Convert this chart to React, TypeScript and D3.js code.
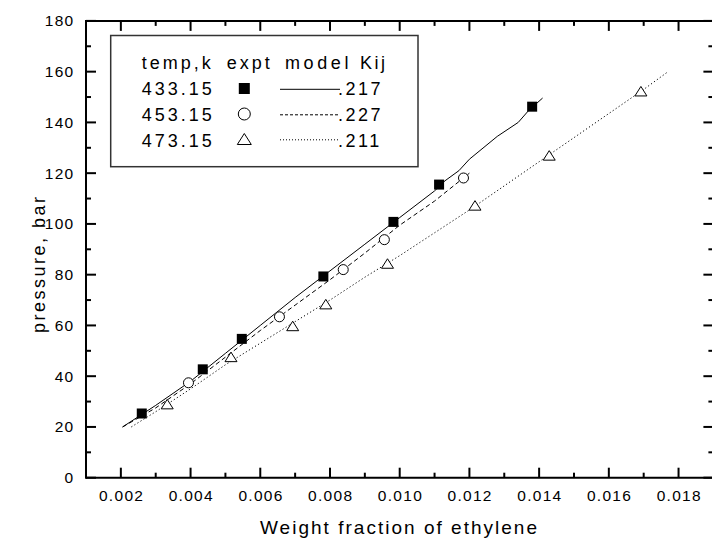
import React from "react";
import * as d3 from "d3";

// ---- data ----
const expt433X = [0.0026, 0.00435, 0.00547, 0.00781, 0.00982, 0.01113, 0.0138];
const expt433Y = [25.3, 42.7, 54.7, 79.3, 100.8, 115.5, 146.2];
const expt453X = [0.00394, 0.00655, 0.00838, 0.00956, 0.01183];
const expt453Y = [37.4, 63.4, 82.0, 93.8, 118.1];
const expt473X = [0.00333, 0.00516, 0.00693, 0.00788, 0.00965, 0.01216, 0.01429, 0.01692];
const expt473Y = [29, 47.6, 59.8, 68.4, 84.4, 107.3, 127, 152.3];

const model433X = [0.00205, 0.003, 0.004, 0.005, 0.006, 0.007, 0.008, 0.009, 0.01, 0.011, 0.0113, 0.0117, 0.012, 0.0128, 0.0134, 0.0137, 0.0141];
const model433Y = [20, 28.5, 38, 49, 60, 71, 81.5, 92, 102.5, 113, 117, 121, 125.5, 134.5, 140, 144.7, 149.6];
const model453X = [0.00205, 0.003, 0.004, 0.005, 0.006, 0.007, 0.008, 0.009, 0.01, 0.011, 0.012];
const model453Y = [20, 27.5, 37, 47.5, 58, 68, 78, 88.5, 99.5, 109, 120];
const model473X = [0.0023, 0.003, 0.004, 0.005, 0.006, 0.007, 0.008, 0.009, 0.01, 0.011, 0.012, 0.013, 0.014, 0.015, 0.016, 0.017, 0.0177];
const model473Y = [20, 26, 35, 44.5, 53, 61.5, 70, 79, 87.5, 96.5, 105.5, 115, 124.5, 134, 143.5, 153, 160];

const xTicks = [0.002, 0.004, 0.006, 0.008, 0.01, 0.012, 0.014, 0.016, 0.018];
const xMinor = [0.001, 0.003, 0.005, 0.007, 0.009, 0.011, 0.013, 0.015, 0.017, 0.019];
const yTicks = [0, 20, 40, 60, 80, 100, 120, 140, 160, 180];
const yMinor = [10, 30, 50, 70, 90, 110, 130, 150, 170];

const legendTemps = ["433.15", "453.15", "473.15"];
const legendKij = [".217", ".227", ".211"];

const FONT = "'Liberation Sans', Arial, Helvetica, sans-serif";

export default function App() {
  const x = d3.scaleLinear().domain([0.001, 0.019]).range([86, 713.4]);
  const y = d3.scaleLinear().domain([0, 180]).range([477.7, 20.9]);

  const line = d3
    .line<[number, number]>()
    .x((d) => x(d[0]))
    .y((d) => y(d[1]));
  const zip = (a: number[], b: number[]) => a.map((v, i) => [v, b[i]] as [number, number]);

  const dashes = ["", "4.5,3", "1.2,2.4"];
  const models = [zip(model433X, model433Y), zip(model453X, model453Y), zip(model473X, model473Y)];

  const x0 = x.range()[0];
  const x1 = x.range()[1];
  const yb = y.range()[0];
  const yt = y.range()[1];

  const square = (cx: number, cy: number, s: number, key: string) => (
    <rect key={key} x={cx - s / 2} y={cy - s / 2} width={s} height={s} fill="#000" />
  );
  const circle = (cx: number, cy: number, r: number, key: string) => (
    <circle key={key} cx={cx} cy={cy} r={r} fill="#fff" stroke="#000" strokeWidth={1} />
  );
  const tri = (cx: number, cy: number, w: number, h: number, key: string) => (
    <path
      key={key}
      d={`M${cx - w / 2},${cy + h / 2}L${cx + w / 2},${cy + h / 2}L${cx},${cy - h / 2}Z`}
      fill="#fff"
      stroke="#000"
      strokeWidth={1}
    />
  );

  const legRows = [94.5, 121, 146.5];
  const legMarkY = [88.5, 114, 139];

  return (
    <svg
      width={712}
      height={539}
      style={{ position: "absolute", left: 0, top: 0, background: "#fff" }}
      fontFamily={FONT}
    >
      <rect x={0} y={0} width={712} height={539} fill="#fff" />

      {/* model lines */}
      {models.map((m, i) => (
        <path
          key={"m" + i}
          d={line(m) || ""}
          fill="none"
          stroke="#000"
          strokeWidth={1}
          strokeDasharray={dashes[i] || undefined}
        />
      ))}

      {/* markers */}
      {zip(expt433X, expt433Y).map((d, i) => square(x(d[0]), y(d[1]), 10, "s" + i))}
      {zip(expt453X, expt453Y).map((d, i) => circle(x(d[0]), y(d[1]), 5, "c" + i))}
      {zip(expt473X, expt473Y).map((d, i) => tri(x(d[0]), y(d[1]), 12, 9.5, "t" + i))}

      {/* frame */}
      <line x1={x0} x2={x1} y1={yb} y2={yb} stroke="#000" strokeWidth={2} />
      <line x1={x0} x2={x1} y1={yt} y2={yt} stroke="#000" strokeWidth={2} />
      <line x1={x0} x2={x0} y1={yt - 1} y2={yb + 1} stroke="#000" strokeWidth={2} />
      <line x1={x1} x2={x1} y1={yt - 1} y2={yb + 1} stroke="#000" strokeWidth={2} />

      {/* x ticks */}
      {xTicks.map((t) => (
        <g key={"xt" + t}>
          <line x1={x(t)} x2={x(t)} y1={yb} y2={yb - 10} stroke="#000" strokeWidth={2} />
          <line x1={x(t)} x2={x(t)} y1={yt} y2={yt + 10} stroke="#000" strokeWidth={2} />
          <text
            x={x(t) + 0.75}
            y={500.5}
            textAnchor="middle"
            fontSize={15.5}
            letterSpacing={1.3}
            fill="#000"
          >
            {t.toFixed(3)}
          </text>
        </g>
      ))}
      {xMinor.map((t) => (
        <g key={"xm" + t}>
          <line x1={x(t)} x2={x(t)} y1={yb} y2={yb - 5} stroke="#000" strokeWidth={2} />
          <line x1={x(t)} x2={x(t)} y1={yt} y2={yt + 5} stroke="#000" strokeWidth={2} />
        </g>
      ))}

      {/* y ticks */}
      {yTicks.map((t) => (
        <g key={"yt" + t}>
          <line x1={x0} x2={x0 + 10} y1={y(t)} y2={y(t)} stroke="#000" strokeWidth={2} />
          <line x1={x1} x2={x1 - 10} y1={y(t)} y2={y(t)} stroke="#000" strokeWidth={2} />
          <text
            x={74.5}
            y={y(t) + 5.5}
            textAnchor="end"
            fontSize={15.5}
            letterSpacing={1.3}
            fill="#000"
          >
            {t}
          </text>
        </g>
      ))}
      {yMinor.map((t) => (
        <g key={"ym" + t}>
          <line x1={x0} x2={x0 + 5} y1={y(t)} y2={y(t)} stroke="#000" strokeWidth={2} />
          <line x1={x1} x2={x1 - 5} y1={y(t)} y2={y(t)} stroke="#000" strokeWidth={2} />
        </g>
      ))}

      {/* axis titles */}
      <text
        x={260}
        y={534}
        fontSize={19}
        textLength={277}
        lengthAdjust="spacing"
        fill="#000"
      >
        Weight fraction of ethylene
      </text>
      <text
        transform="translate(45,333) rotate(-90)"
        x={0}
        y={0}
        fontSize={18}
        textLength={136}
        lengthAdjust="spacing"
        fill="#000"
      >
        pressure, bar
      </text>

      {/* legend */}
      <rect x={110.7} y={35.5} width={307.3} height={131.2} fill="#fff" stroke="#333" strokeWidth={1.5} />
      <g fontSize={18} letterSpacing={3} fill="#000">
        <text x={141.7} y={69}>temp,k</text>
        <text x={226.7} y={69}>expt</text>
        <text x={285} y={69} letterSpacing={3.6}>model</text>
        <text x={360} y={69} letterSpacing={2.5}>Kij</text>
        {legendTemps.map((t, i) => (
          <text key={"lt" + i} x={141.7} y={legRows[i]}>
            {t}
          </text>
        ))}
        {legendKij.map((k, i) => (
          <text key={"lk" + i} x={338} y={legRows[i]} letterSpacing={2.5}>
            {k}
          </text>
        ))}
      </g>
      {square(244.3, legMarkY[0], 11, "ls")}
      {circle(244.3, legMarkY[1], 6, "lc")}
      {tri(244.3, legMarkY[2], 14, 11, "lt")}
      {[0, 1, 2].map((i) => (
        <line
          key={"ll" + i}
          x1={280}
          x2={340}
          y1={legMarkY[i] + 0.8}
          y2={legMarkY[i] + 0.8}
          stroke="#000"
          strokeWidth={1}
          strokeDasharray={i === 1 ? "3,2" : i === 2 ? "1,2" : undefined}
        />
      ))}
    </svg>
  );
}
